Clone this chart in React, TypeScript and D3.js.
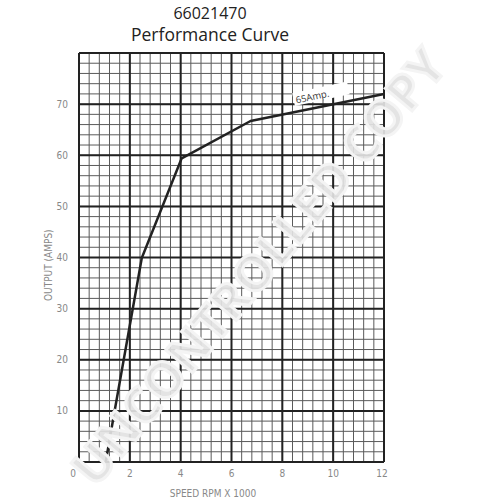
import React from "react";
import * as d3 from "d3";

const speedRpm = [1.05, 1.42, 2.47, 4.04, 6.75, 12.0];
const outputAmps = [0, 10.5, 39.9, 59.4, 66.7, 72.0];
const xTicks = [0, 2, 4, 6, 8, 10, 12];
const yTicks = [10, 20, 30, 40, 50, 60, 70];
const titleLines = ["66021470", "Performance Curve"];
const curveLabel = "65Amp.";
const watermark = "UNCONTROLLED COPY";

const W = 500, H = 500;
const left = 79, right = 384, top = 53, bottom = 462;

export default function App() {
  const x = d3.scaleLinear().domain([0, 12]).range([left, right]);
  const y = d3.scaleLinear().domain([0, 80]).range([bottom, top]);
  const minorX = d3.range(0, 12.0001, 0.4);
  const minorY = d3.range(0, 80.0001, 2);
  const majorX = d3.range(0, 12.0001, 2);
  const majorY = d3.range(0, 80.0001, 10);
  const lineGen = d3
    .line<[number, number]>()
    .x((d) => x(d[0]))
    .y((d) => y(d[1]));
  const data: [number, number][] = speedRpm.map((s, i) => [s, outputAmps[i]]);
  const lab = "'Liberation Sans Narrow', 'DejaVu Sans Condensed', sans-serif";
  return (
    <svg width={W} height={H} style={{ position: "absolute", left: 0, top: 0, background: "#fff" }}>
      <rect x={0} y={0} width={W} height={H} fill="#fff" />
      <text x={210} y={19} textAnchor="middle" fontFamily="'Open Sans', sans-serif" fontSize={16} fill="#222">
        {titleLines[0]}
      </text>
      <text x={210} y={41} textAnchor="middle" fontFamily="'Open Sans', sans-serif" fontSize={17.5} fill="#222">
        {titleLines[1]}
      </text>
      <g>
        {minorX.map((v, i) => (
          <line key={"mx" + i} x1={x(v)} x2={x(v)} y1={top} y2={bottom} stroke="#5a5a5a" strokeWidth={1} />
        ))}
        {minorY.map((v, i) => (
          <line key={"my" + i} x1={left} x2={right} y1={y(v)} y2={y(v)} stroke="#5a5a5a" strokeWidth={1} />
        ))}
        {majorX.map((v, i) => (
          <line key={"Mx" + i} x1={x(v)} x2={x(v)} y1={top} y2={bottom} stroke="#222" strokeWidth={2} />
        ))}
        {majorY.map((v, i) => (
          <line key={"My" + i} x1={left} x2={right} y1={y(v)} y2={y(v)} stroke="#222" strokeWidth={2} />
        ))}
      </g>
      <path d={lineGen(data) || ""} fill="none" stroke="#222" strokeWidth={2.5} strokeLinejoin="round" />
      <g transform={`translate(${x(9.3)},${y(71.5)}) rotate(-12)`}>
        <rect x={-22} y={-8} width={56} height={13} fill="#fff" />
        <text x={-20} y={3} fontFamily="'Open Sans', sans-serif" fontSize={9.5} fill="#333">
          {curveLabel}
        </text>
      </g>
      {xTicks.map((t) => (
        <text key={"xt" + t} x={x(t) + (t === 0 ? -6 : t === 12 ? -2 : 0)} y={477} textAnchor="middle" fontFamily={lab} fontSize={10} fill="#888">
          {t}
        </text>
      ))}
      {yTicks.map((t) => (
        <text key={"yt" + t} x={68} y={y(t) + 3.5} textAnchor="end" fontFamily={lab} fontSize={10} fill="#888">
          {t}
        </text>
      ))}
      <text x={213} y={497} textAnchor="middle" fontFamily={lab} fontSize={10} fill="#888">
        SPEED RPM X 1000
      </text>
      <text transform={`translate(52,${y(38.5)}) rotate(-90)`} textAnchor="middle" fontFamily={lab} fontSize={10} fill="#888">
        OUTPUT (AMPS)
      </text>
      <text
        transform="translate(272,278) rotate(-50)"
        textAnchor="middle"
        fontFamily="'Open Sans', sans-serif"
        fontWeight="bold"
        fontSize={49}
        fill="#e2e2e2"
        fillOpacity={0.92}
        stroke="#f4f4f4"
        strokeWidth={3}
      >
        {watermark}
      </text>
    </svg>
  );
}
